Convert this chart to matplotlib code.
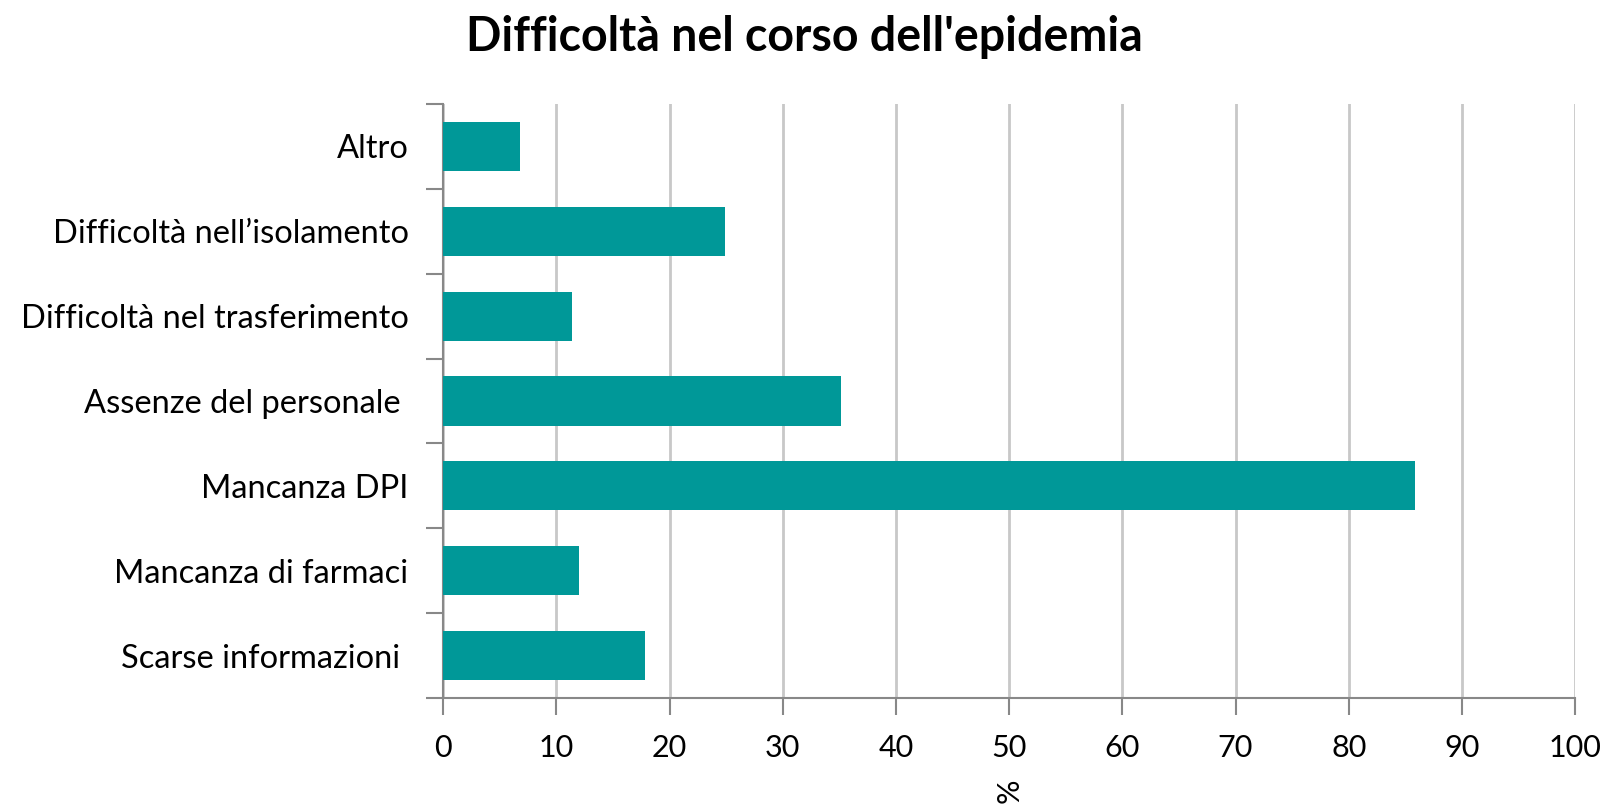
import matplotlib
matplotlib.use("Agg")
import matplotlib.pyplot as plt
import numpy as np

categories = ["Scarse informazioni ", "Mancanza di farmaci", "Mancanza DPI",
              "Assenze del personale ", "Difficoltà nel trasferimento",
              "Difficoltà nell’isolamento", "Altro"]
values = [17.8, 12.0, 85.9, 35.1, 11.4, 24.9, 6.8]
xticks = [0, 10, 20, 30, 40, 50, 60, 70, 80, 90, 100]

plt.rcParams['font.family'] = ['Lato', 'DejaVu Sans']

fig = plt.figure(figsize=(16.08, 8.09), dpi=100)
ax = fig.add_axes([0.2757, 0.1372, 0.7038, 0.7342])

y = np.arange(len(categories))
ax.barh(y, values, height=0.58, color='#009898', zorder=3)

ax.set_xlim(0, 100)
ax.set_ylim(-0.5, len(categories) - 0.5)
ax.set_xticks(xticks)
ax.set_xticklabels([str(t) for t in xticks], fontsize=22)
ax.set_yticks(y)
ax.set_yticklabels(categories, fontsize=23.5)
ax.set_yticks(np.arange(-0.5, len(categories), 1.0), minor=True)
ax.tick_params(axis='y', which='major', length=0, pad=25)
ax.tick_params(axis='y', which='minor', length=12, width=1.5, color='#888888')
ax.tick_params(axis='x', which='major', length=12, width=1.5, color='#888888', pad=14)

ax.grid(axis='x', color='#c8c8c8', linewidth=2, zorder=0)
for s in ['top', 'right']:
    ax.spines[s].set_visible(False)
for s in ['left', 'bottom']:
    ax.spines[s].set_color('#888888')
    ax.spines[s].set_linewidth(1.5)

ax.set_xlabel('%', fontsize=22, rotation=90, labelpad=12)
fig.suptitle("Difficoltà nel corso dell'epidemia", fontsize=33.5, fontweight='bold',
             x=0.5, y=0.982, va='top')

fig.savefig('out.png', dpi=100, facecolor='white')
